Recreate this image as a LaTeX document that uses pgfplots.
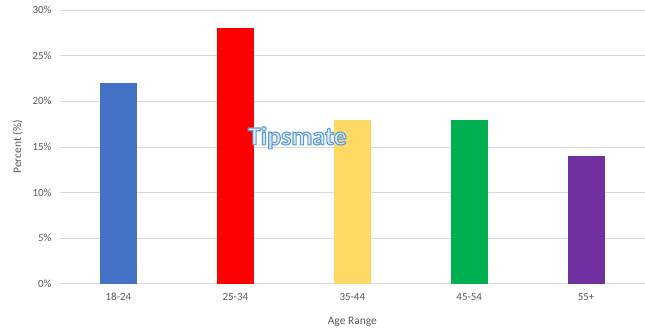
\documentclass[border=0pt]{standalone}
\usepackage{pgfplots}
\pgfplotsset{compat=1.18}
\usepackage{fontspec}
\setmainfont{Carlito}
\definecolor{lbl}{HTML}{595959}
\definecolor{grd}{HTML}{D9D9D9}
\definecolor{cA}{HTML}{4472C4}
\definecolor{cB}{HTML}{FF0000}
\definecolor{cC}{HTML}{FFD966}
\definecolor{cD}{HTML}{00B050}
\definecolor{cE}{HTML}{7030A0}
\definecolor{wmf}{HTML}{DDEBF7}
\begin{document}
\begin{tikzpicture}
\begin{axis}[
  scale only axis,
  width=585bp, height=274bp,
  xmin=-0.5, xmax=4.5, ymin=0, ymax=30,
  xtick={0,1,2,3,4},
  xticklabels={18-24,25-34,35-44,45-54,55+},
  ytick={0,5,10,15,20,25,30},
  yticklabel={\pgfmathprintnumber{\tick}\%},
  /pgf/number format/assume math mode=true,
  ymajorgrids, grid style={grd, line width=0.75bp},
  axis line style={draw=none},
  axis x line*=bottom, axis y line*=left,
  x axis line style={grd, line width=0.9bp},
  major tick length=0pt,
  tick label style={font=\fontsize{11}{13}\selectfont, text=lbl},
  xticklabel style={yshift=-6bp},
  yticklabel style={xshift=-5bp},
  xlabel={Age Range}, ylabel={Percent (\%)},
  label style={font=\fontsize{11.5}{13}\selectfont, text=lbl},
  xlabel style={yshift=-9bp},
  ylabel style={yshift=3bp},
  clip=false,
]
\addplot[ybar, bar width=37bp, fill=cA, draw=none] coordinates {(0,22)};
\addplot[ybar, bar width=37bp, fill=cB, draw=none] coordinates {(1,28)};
\addplot[ybar, bar width=37bp, fill=cC, draw=none] coordinates {(2,18)};
\addplot[ybar, bar width=37bp, fill=cD, draw=none] coordinates {(3,18)};
\addplot[ybar, bar width=37bp, fill=cE, draw=none] coordinates {(4,14)};
\node[text=wmf, font=\fontsize{26}{28}\selectfont\bfseries] at (axis cs:1.53,16)
  {\special{pdf:literal direct 2 Tr 1.1 w 0.357 0.608 0.835 RG}Tipsmate\special{pdf:literal direct 0 Tr}};
\end{axis}
\useasboundingbox (-60bp,-47bp) rectangle (585bp,284bp);
\end{tikzpicture}
\end{document}
